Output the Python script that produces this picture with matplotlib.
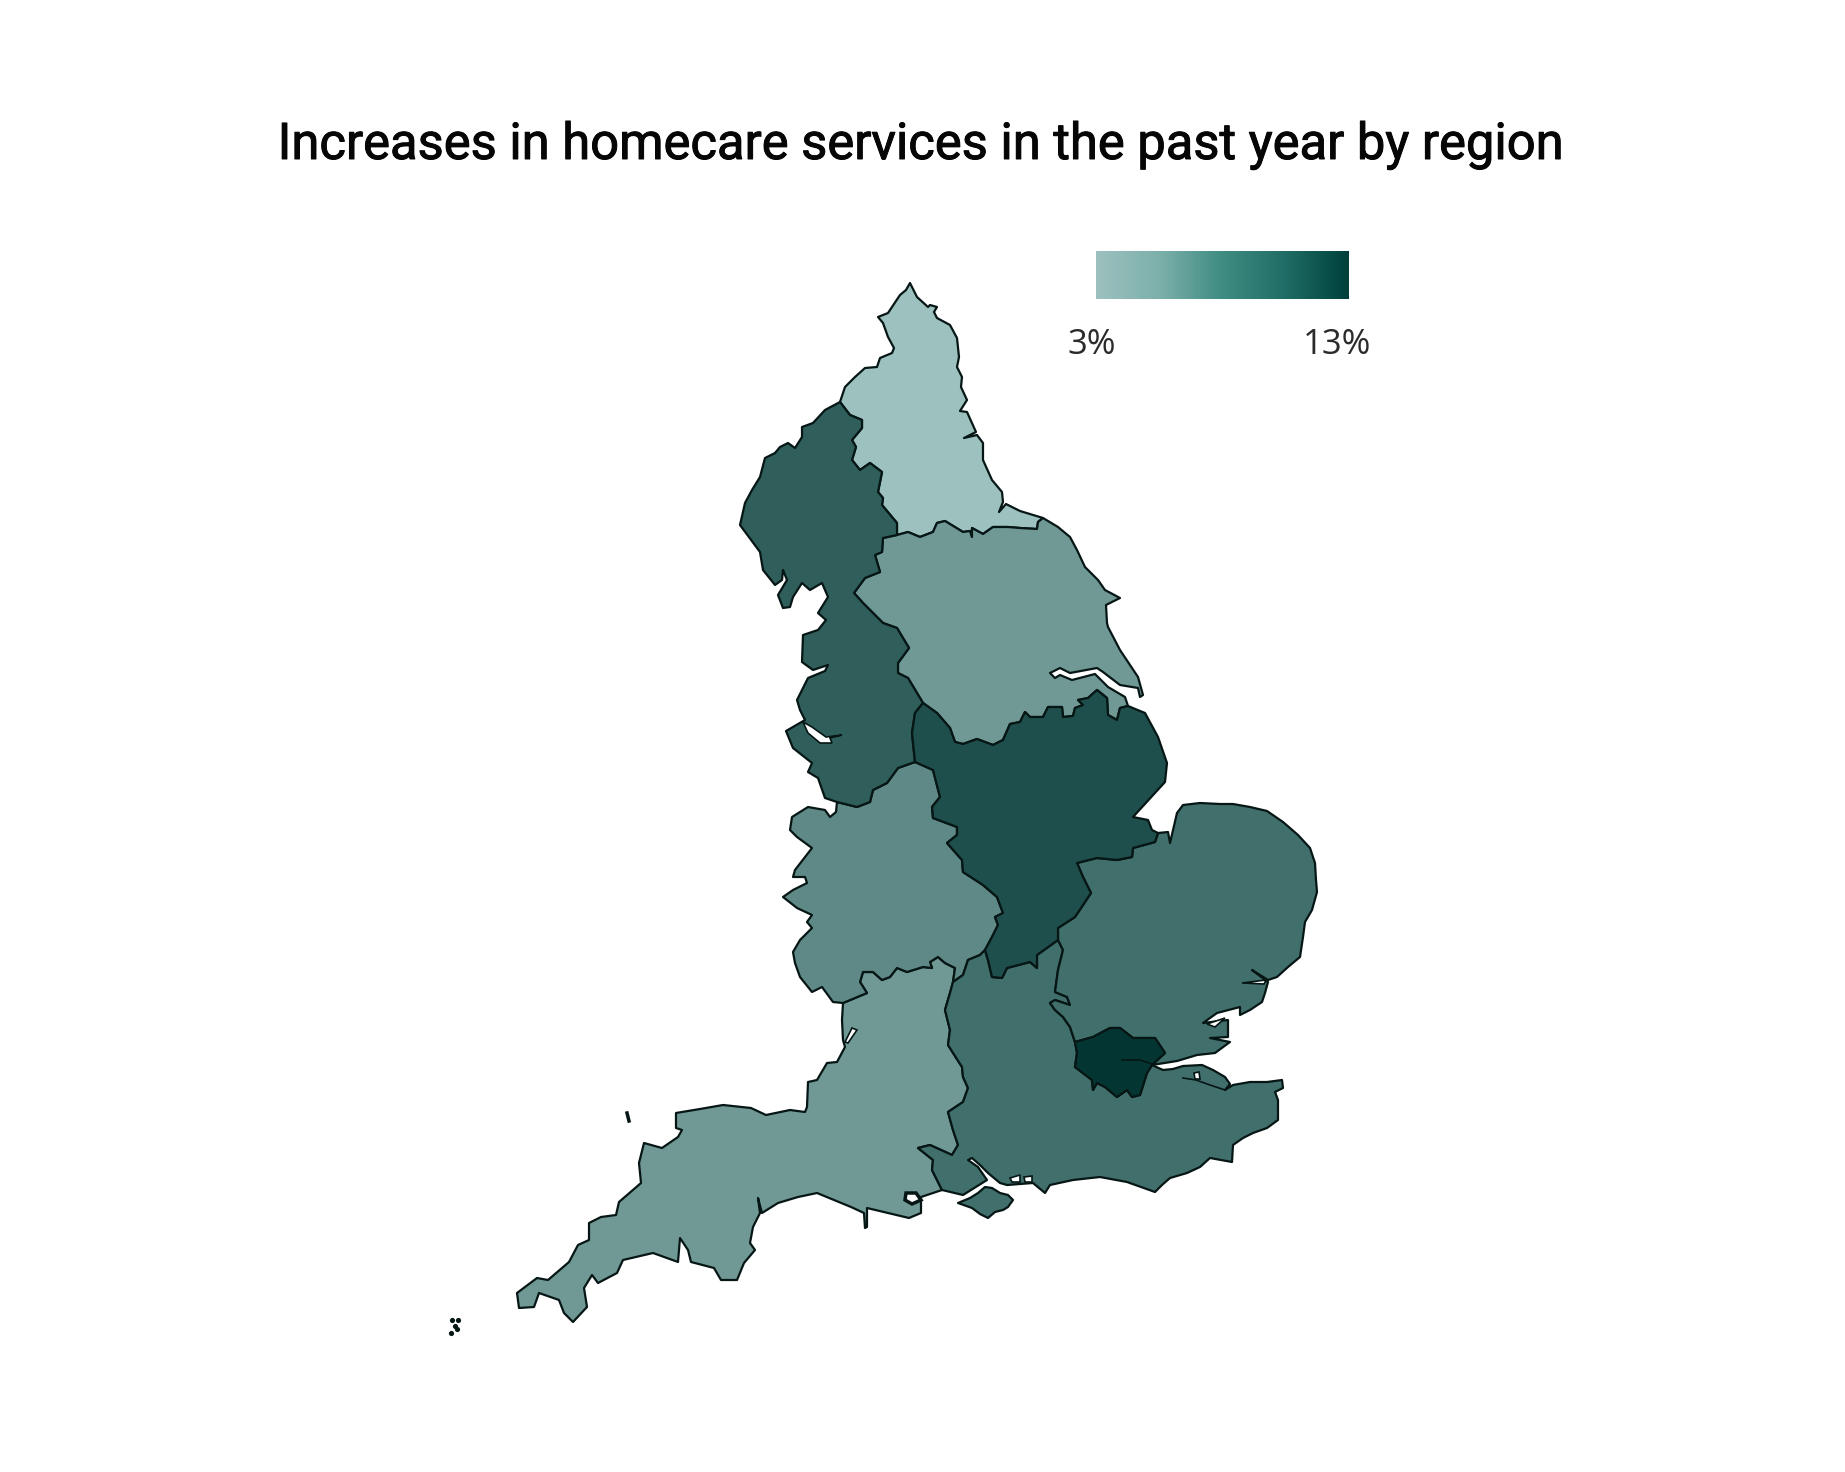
import numpy as np
import matplotlib
matplotlib.use("Agg")
import matplotlib.pyplot as plt
import matplotlib.patheffects as pe
from matplotlib.colors import LinearSegmentedColormap, Normalize

title = "Increases in homecare services in the past year by region"
legend_min = 3
legend_max = 13
legend_labels = ["3%", "13%"]

# estimated % increase per region, read from the fill shades
values = {
    "North East": 3.0,
    "Yorkshire and the Humber": 5.9,
    "South West": 5.9,
    "West Midlands": 7.0,
    "South East": 8.9,
    "East of England": 8.9,
    "North West": 10.1,
    "East Midlands": 11.2,
    "London": 13.0,
}

region_colors = ["#9cc1be", "#033633"]
legend_colors = ["#9cc1be", "#7db0ab", "#3f8c82", "#1f6d66", "#00403b"]

ne_north = [(840, 402), (845, 387), (855, 377), (865, 368), (877, 367), (880, 358), (892, 353), (894, 348),
            (888, 337), (883, 323), (878, 317), (888, 313), (900, 295), (906, 290), (910, 283)]
ne_coast = [(910, 283), (917, 297), (928, 307), (930, 305), (937, 307), (934, 312), (937, 318), (950, 325),
            (957, 338), (959, 357), (957, 367), (962, 377), (961, 387), (967, 400), (960, 411), (967, 412),
            (976, 432), (964, 438), (977, 435), (983, 443), (983, 460), (992, 480), (1002, 492), (1003, 502),
            (999, 512), (1006, 504), (1020, 511), (1043, 518)]
ne_yh = [(1043, 518), (1038, 522), (1037, 529), (1020, 528), (1008, 527), (993, 527), (983, 534), (972, 528),
         (972, 537), (970, 531), (963, 532), (945, 521), (937, 523), (933, 532), (920, 537), (908, 532), (897, 535)]
ne_nw = [(897, 535), (897, 523), (882, 505), (883, 498), (878, 492), (882, 472), (870, 463), (860, 470),
         (852, 460), (856, 447), (852, 440), (862, 428), (862, 420), (850, 415), (840, 402)]
nw_coast = [(840, 402), (825, 410), (813, 423), (802, 427), (802, 437), (795, 448), (788, 443), (780, 447),
            (775, 453), (765, 458), (760, 477), (752, 490), (745, 503), (740, 525), (760, 552), (763, 570),
            (775, 585), (782, 580), (783, 570), (787, 580), (778, 595), (783, 608), (790, 607), (793, 597),
            (802, 583), (810, 590), (822, 583), (828, 597), (818, 613), (826, 620), (818, 630), (803, 635),
            (802, 662), (813, 670), (828, 665), (825, 671), (808, 678), (797, 700), (800, 710), (805, 720),
            (786, 731), (793, 748), (812, 763), (808, 772), (818, 778), (825, 798), (837, 802)]
nw_wm = [(837, 802), (857, 807), (870, 802), (873, 790), (887, 783), (898, 768), (915, 762)]
nw_em = [(915, 762), (912, 733), (915, 713), (923, 703)]
yh_nw = [(923, 703), (908, 678), (898, 673), (898, 663), (909, 648), (897, 628), (883, 623), (873, 613),
         (863, 603), (854, 593), (865, 578), (880, 572), (875, 555), (882, 552), (883, 538), (897, 535)]
yh_coast = [(1043, 518), (1058, 527), (1070, 537), (1077, 550), (1085, 567), (1098, 580), (1105, 590), (1120, 598),
            (1106, 605), (1107, 623), (1108, 627), (1120, 650), (1138, 677), (1143, 695), (1140, 697), (1138, 688),
            (1120, 685), (1103, 672), (1097, 668), (1070, 673), (1060, 668), (1050, 673), (1055, 678), (1060, 675),
            (1072, 680), (1095, 674), (1108, 687), (1125, 697), (1128, 706)]
em_yh = [(1128, 706), (1120, 708), (1117, 720), (1108, 715), (1107, 698), (1097, 690), (1088, 698), (1078, 700),
         (1083, 705), (1075, 708), (1073, 716), (1063, 717), (1062, 707), (1048, 707), (1043, 717), (1030, 717),
         (1025, 712), (1020, 722), (1010, 724), (1003, 740), (993, 745), (977, 739), (963, 744), (955, 742),
         (950, 728), (937, 713), (923, 703)]
em_wm = [(915, 762), (933, 770), (940, 797), (932, 807), (933, 818), (957, 827), (957, 835), (947, 843),
         (962, 860), (963, 872), (983, 885), (997, 897), (1003, 913), (995, 917), (998, 925), (992, 937), (985, 950)]
em_se = [(985, 950), (988, 960), (992, 977), (1002, 978), (1007, 968), (1030, 962), (1037, 968), (1037, 955),
         (1058, 940)]
em_ee = [(1058, 940), (1058, 928), (1075, 917), (1091, 893), (1083, 877), (1077, 863), (1097, 858), (1117, 860),
         (1132, 857), (1133, 848), (1155, 842), (1158, 833)]
em_coast = [(1158, 833), (1152, 830), (1148, 820), (1133, 817), (1165, 782), (1167, 763), (1158, 737), (1145, 713),
            (1128, 706)]
wm_se = [(985, 950), (980, 955), (968, 960), (963, 975), (953, 982)]
wm_sw = [(953, 982), (955, 968), (945, 963), (938, 957), (930, 962), (932, 968), (923, 967), (907, 972), (897, 968),
         (890, 977), (882, 980), (873, 972), (863, 972), (860, 982), (867, 993), (843, 1003)]
wm_coast = [(843, 1003), (833, 1002), (822, 987), (812, 992), (800, 977), (795, 963), (793, 952), (800, 940),
            (812, 928), (807, 922), (812, 915), (797, 908), (783, 897), (793, 890), (807, 883), (805, 877),
            (793, 877), (795, 870), (812, 848), (797, 837), (790, 830), (792, 817), (808, 807), (825, 810),
            (830, 817), (836, 812), (837, 802)]
se_sw = [(953, 982), (950, 993), (945, 1010), (950, 1030), (948, 1045), (962, 1067), (963, 1077), (968, 1088),
         (963, 1102), (948, 1112), (953, 1130), (958, 1145), (952, 1155), (930, 1145), (918, 1148), (933, 1160),
         (932, 1170), (942, 1190)]
sw_coast = [(942, 1190), (921, 1197), (921, 1213), (909, 1218), (867, 1208), (867, 1227), (865, 1228), (864, 1213),
            (851, 1207), (817, 1193), (798, 1197), (778, 1203), (762, 1213), (758, 1198), (760, 1213), (753, 1227),
            (750, 1243), (755, 1250), (744, 1263), (737, 1280), (721, 1280), (714, 1268), (691, 1262), (688, 1250),
            (680, 1238), (678, 1262), (653, 1253), (623, 1260), (617, 1273), (598, 1283), (592, 1275), (584, 1288),
            (587, 1307), (573, 1322), (564, 1313), (559, 1300), (539, 1293), (534, 1307), (519, 1308), (517, 1293),
            (537, 1278), (548, 1280), (569, 1262), (578, 1245), (589, 1240), (589, 1223), (601, 1217), (616, 1215),
            (619, 1202), (641, 1183), (639, 1163), (644, 1143), (662, 1148), (678, 1137), (682, 1130), (676, 1128),
            (676, 1113), (700, 1109), (723, 1105), (751, 1108), (766, 1115), (790, 1110), (805, 1112), (807, 1107),
            (808, 1082), (817, 1080), (827, 1063), (837, 1062), (845, 1047), (843, 1040), (842, 1020), (843, 1003)]
ee_se = [(1058, 940), (1063, 950), (1058, 970), (1055, 992), (1067, 997), (1070, 1005), (1055, 1000), (1050, 1003),
         (1055, 1010), (1063, 1017), (1070, 1027), (1075, 1042)]
london_n = [(1075, 1042), (1093, 1037), (1110, 1028), (1120, 1028), (1133, 1038), (1155, 1038), (1165, 1053),
            (1152, 1065)]
london_s = [(1075, 1042), (1077, 1053), (1075, 1067), (1092, 1080), (1093, 1090), (1097, 1083), (1105, 1087),
            (1117, 1097), (1127, 1090), (1132, 1097), (1140, 1095), (1147, 1073), (1152, 1065)]
se_coast = [(1152, 1065), (1163, 1070), (1173, 1069), (1183, 1066), (1202, 1065), (1213, 1070), (1225, 1077),
            (1230, 1084), (1225, 1090), (1233, 1085), (1250, 1082), (1267, 1082), (1282, 1080), (1283, 1088),
            (1275, 1092), (1278, 1100), (1278, 1120), (1267, 1128), (1253, 1133), (1243, 1138), (1233, 1145),
            (1232, 1162), (1210, 1158), (1200, 1167), (1187, 1173), (1170, 1178), (1162, 1185), (1155, 1192),
            (1127, 1182), (1100, 1177), (1073, 1180), (1050, 1185), (1045, 1193), (1033, 1183), (1007, 1185),
            (1000, 1183), (988, 1173), (980, 1165), (972, 1158), (968, 1160), (978, 1167), (987, 1180), (963, 1195),
            (942, 1190)]
ee_coast = [(1152, 1065), (1177, 1061), (1197, 1055), (1215, 1053), (1230, 1042), (1210, 1038), (1228, 1037),
            (1228, 1020), (1203, 1023), (1217, 1013), (1240, 1007), (1240, 1015), (1250, 1010), (1262, 1002),
            (1265, 993), (1268, 982), (1252, 970), (1268, 980), (1277, 977), (1288, 967), (1300, 957), (1303, 937),
            (1305, 922), (1312, 910), (1317, 892), (1316, 880), (1315, 863), (1310, 848), (1298, 835), (1283, 822),
            (1267, 811), (1250, 807), (1233, 804), (1220, 804), (1200, 803), (1183, 805), (1177, 813), (1170, 843),
            (1168, 832), (1158, 833)]
wight = [(958, 1203), (970, 1198), (978, 1193), (985, 1187), (992, 1188), (1000, 1193), (1008, 1195), (1013, 1200),
         (1008, 1207), (1003, 1210), (995, 1212), (988, 1218), (980, 1214), (972, 1208)]

# estuaries and harbours that show as white gaps
water = [
    [(803, 722), (808, 733), (820, 743), (832, 743), (830, 738), (842, 735), (826, 737), (812, 727)],
    [(852, 1028), (857, 1030), (848, 1043), (845, 1042)],
    [(1207, 1024), (1225, 1018), (1215, 1027)],
    [(1242, 983), (1266, 980), (1264, 984)],
    [(1010, 1178), (1020, 1175), (1020, 1182), (1012, 1182)],
    [(1024, 1177), (1032, 1176), (1032, 1182), (1025, 1182)],
    [(1194, 1073), (1199, 1072), (1200, 1079), (1195, 1079)],
]
swale = [(1183, 1078), (1196, 1080), (1210, 1085), (1225, 1090)]
poole = [(906, 1193), (916, 1193), (921, 1200), (912, 1204), (905, 1200)]
thames = [(1122, 1060), (1140, 1060), (1152, 1064)]
scilly_x = [452, 458, 455, 457, 451]
scilly_y = [1320, 1320, 1326, 1329, 1333]
lundy = [(627, 1113), (629, 1121)]


def rev(points):
    return points[::-1]


regions = {
    "North East": ne_north + ne_coast + ne_yh + ne_nw,
    "Yorkshire and the Humber": rev(ne_yh) + yh_coast + em_yh + yh_nw,
    "South West": rev(wm_sw) + se_sw + sw_coast,
    "West Midlands": em_wm + wm_se + wm_sw + wm_coast + nw_wm,
    "South East": em_se + ee_se + london_s + se_coast + rev(se_sw) + rev(wm_se),
    "East of England": rev(em_ee) + ee_se + london_n + ee_coast,
    "North West": nw_coast + nw_wm + nw_em + yh_nw + ne_nw,
    "East Midlands": rev(nw_em) + em_wm + em_se + em_ee + em_coast + em_yh,
    "London": london_n + rev(london_s),
}

edge = "#061615"
lw = 1.6

cmap = LinearSegmentedColormap.from_list("regions", region_colors)
legend_cmap = LinearSegmentedColormap.from_list("legend", legend_colors)
norm = Normalize(legend_min, legend_max)

fig = plt.figure(figsize=(18.45, 14.72), dpi=100)
ax = fig.add_axes([0, 0, 1, 1])

for name, outline in regions.items():
    xs, ys = zip(*outline)
    ax.fill(xs, ys, facecolor=cmap(norm(values[name])), edgecolor=edge, linewidth=lw, joinstyle="round")

xs, ys = zip(*wight)
ax.fill(xs, ys, facecolor=cmap(norm(values["South East"])), edgecolor=edge, linewidth=lw, joinstyle="round")

for gap in water:
    xs, ys = zip(*gap)
    ax.fill(xs, ys, facecolor="white", edgecolor=edge, linewidth=1.2)

xs, ys = zip(*poole)
ax.fill(xs, ys, facecolor="white", edgecolor=edge, linewidth=2.5)
ax.plot(*zip(*thames), color=edge, linewidth=1.2)
ax.plot(*zip(*swale), color=edge, linewidth=1.2)
ax.plot(*zip(*lundy), color=edge, linewidth=2.5)
ax.scatter(scilly_x, scilly_y, s=14, color=edge, linewidths=0)

# gradient legend
gradient = np.linspace(legend_min, legend_max, 256).reshape(1, -1)
ax.imshow(gradient, cmap=legend_cmap, norm=norm, extent=(1096, 1349, 299, 251), aspect="auto")
ax.text(1092, 345, legend_labels[0], ha="center", va="center", fontsize=25, family="Open Sans", color="#2b2b2b")
ax.text(1337, 345, legend_labels[1], ha="center", va="center", fontsize=25, family="Open Sans", color="#2b2b2b")

# regular weight plus a hairline stroke, the reference sits between regular and medium
title_text = ax.text(921, 159, title, ha="center", va="baseline", fontsize=36.5, family="Roboto", color="#060606")
title_text.set_path_effects([pe.withStroke(linewidth=0.7, foreground="#060606")])

ax.set_xlim(0, 1845)
ax.set_ylim(1472, 0)
ax.axis("off")

fig.savefig("out.png", dpi=100, facecolor="white")
